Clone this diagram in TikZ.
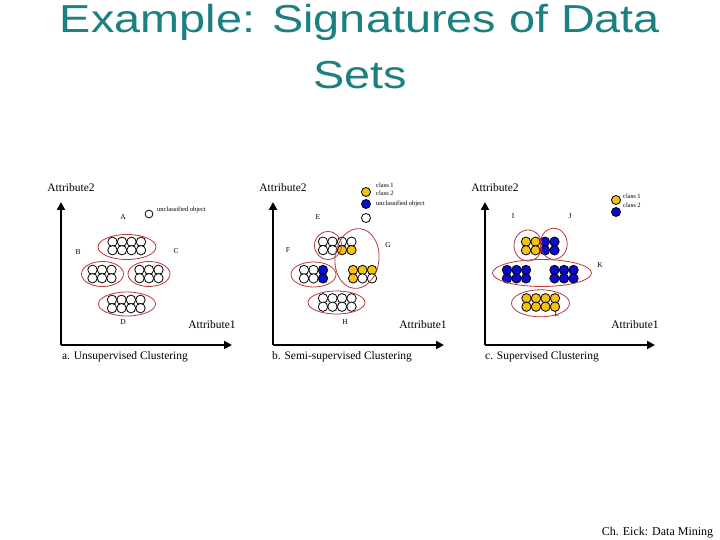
\documentclass[tikz,border=0pt]{standalone}
\usepackage{fontspec}
\setmainfont{Liberation Serif}
\newfontfamily\titlefont{Liberation Sans}
\usepackage{tikz}
\usetikzlibrary{positioning,shapes.geometric,arrows.meta}
\definecolor{titleteal}{HTML}{1A8080}
\definecolor{classone} {HTML}{F6C10F}
\definecolor{classtwo} {HTML}{0A0AD2}
\definecolor{clured}   {HTML}{B8383A}
\tikzset{
  % --- nodes
  ttl/.style   = {font=\titlefont\fontsize{39}{39}\selectfont, text=titleteal,
                  xscale=1.2, anchor=base, inner sep=0pt},
  axlbl/.style = {font=\fontsize{11.5}{12}\selectfont, inner sep=0pt},
  ltr/.style   = {font=\fontsize{7.5}{7.5}\selectfont, inner sep=0pt},
  lgd/.style   = {font=\fontsize{6.5}{6.5}\selectfont, inner sep=0pt, anchor=west},
  clu/.style   = {ellipse, draw=clured, line width=0.8pt, inner sep=0pt},
  % --- objects
  wobj/.style  = {draw=black, fill=white, line width=0.8pt},
  yobj/.style  = {wobj, fill=classone},
  bobj/.style  = {wobj, fill=classtwo},
  % --- edges
  axis/.style  = {line width=2.6pt, -{Triangle[width=8pt,length=8pt]}},
}
\begin{document}
\begin{tikzpicture}[x=1pt,y=-1pt]
  \useasboundingbox (0,0) rectangle (720,540);

  % title
  \node[ttl] (t1) at (360,33) {Example: Signatures of Data};
  \node[ttl] (t2) at (360,89) {Sets};

  % a. unsupervised
  \coordinate (ao) at (61,345);
  \coordinate (ay) at (61,202);
  \coordinate (ax) at (232,345);
  \draw[axis] (ao) -- (ay);
  \draw[axis] (ao) -- (ax);
  \foreach \x in {112.5,122,131.5,141} \foreach \y in {241.8,250.2} \draw[wobj] (\x,\y) circle[radius=4.7pt];
  \foreach \x in {92.5,102,111.5} \foreach \y in {269.8,278.2} \draw[wobj] (\x,\y) circle[radius=4.7pt];
  \foreach \x in {139.5,149,158.5} \foreach \y in {269.8,278.2} \draw[wobj] (\x,\y) circle[radius=4.7pt];
  \foreach \x in {112,121.5,131,140.5} \foreach \y in {299.8,308.2} \draw[wobj] (\x,\y) circle[radius=4.7pt];
  \node[clu, minimum width=58pt, minimum height=25pt] (cluA) at (127,247) {};
  \node[clu, minimum width=42pt, minimum height=25pt] (cluB) at (102.5,274) {};
  \node[clu, minimum width=42pt, minimum height=25pt] (cluC) at (149,274) {};
  \node[clu, minimum width=57pt, minimum height=24pt] (cluD) at (127,304) {};
  \draw[wobj] (149,214) circle[radius=3.9pt];
  \node[lgd] (ua) at (157,210) {unclassified object};
  \node[ltr] (la) at (123,217) {A};
  \node[ltr] (lb) at (78,252) {B};
  \node[ltr] (lc) at (176,251) {C};
  \node[ltr] (ld) at (123,322) {D};
  \node[axlbl] (a2a) at (71,188) {Attribute2};
  \node[axlbl] (a1a) at (212,325) {Attribute1};
  \node[axlbl] (capa) at (125,357) {a. Unsupervised Clustering};

  % b. semi-supervised
  \coordinate (bo) at (273,345);
  \coordinate (by) at (273,202);
  \coordinate (bx) at (444,345);
  \draw[axis] (bo) -- (by);
  \draw[axis] (bo) -- (bx);
  \foreach \x in {323,332.5,342,351.5} \draw[wobj] (\x,241.7) circle[radius=4.7pt];
  \foreach \x in {323,332.5} \draw[wobj] (\x,250.1) circle[radius=4.7pt];
  \foreach \x in {342,351.5} \draw[yobj] (\x,250.1) circle[radius=4.7pt];
  \foreach \x in {353,362.5,372} \draw[yobj] (\x,270) circle[radius=4.7pt];
  \draw[yobj] (353,278.4) circle[radius=4.7pt];
  \foreach \x in {362.5,372} \draw[wobj] (\x,278.4) circle[radius=4.7pt];
  \foreach \y in {270,278.4} {
    \draw[wobj] (304,\y) circle[radius=4.7pt];
    \draw[wobj] (313.5,\y) circle[radius=4.7pt];
    \draw[bobj] (323,\y) circle[radius=4.7pt];
  }
  \foreach \x in {323,332.5,342,351.5} \foreach \y in {298.3,306.7} \draw[wobj] (\x,\y) circle[radius=4.7pt];
  \node[clu, minimum width=27pt, minimum height=28pt] (cluE) at (328,245.5) {};
  \node[clu, minimum width=44pt, minimum height=60pt, rotate=-6] (cluG) at (357,258.5) {};
  \node[clu, minimum width=45pt, minimum height=25pt] (cluF) at (313.5,274.5) {};
  \node[clu, minimum width=57pt, minimum height=23pt] (cluH) at (336.5,302.5) {};
  \draw[yobj] (366,192) circle[radius=4.5pt];
  \draw[bobj] (366,204) circle[radius=4.5pt];
  \draw[wobj] (366,218) circle[radius=4.5pt];
  \node[lgd] (c1b) at (376,185) {class 1};
  \node[lgd] (c2b) at (376,193) {class 2};
  \node[lgd] (ub) at (376,204) {unclassified object};
  \node[ltr] (le) at (318,217) {E};
  \node[ltr] (lf) at (288,250) {F};
  \node[ltr] (lg) at (388,245) {G};
  \node[ltr] (lh) at (345,322) {H};
  \node[axlbl] (a2b) at (283,188) {Attribute2};
  \node[axlbl] (a1b) at (423,325) {Attribute1};
  \node[axlbl] (capb) at (342,357) {b. Semi-supervised Clustering};

  % c. supervised
  \coordinate (co) at (485,345);
  \coordinate (cy) at (485,202);
  \coordinate (cx) at (655,345);
  \draw[axis] (co) -- (cy);
  \draw[axis] (co) -- (cx);
  \foreach \x in {526,535.5} \foreach \y in {241.7,250.3} \draw[yobj] (\x,\y) circle[radius=4.7pt];
  \foreach \x in {545,554.5} \foreach \y in {241.7,250.3} \draw[bobj] (\x,\y) circle[radius=4.7pt];
  \foreach \x in {507,516.5,526,554.5,564,573.5} \foreach \y in {270,278.4} \draw[bobj] (\x,\y) circle[radius=4.7pt];
  \foreach \x in {526.5,536,545.5,555} \foreach \y in {298.3,306.7} \draw[yobj] (\x,\y) circle[radius=4.7pt];
  \node[clu, minimum width=28pt, minimum height=31pt] (cluI) at (528,245.5) {};
  \node[clu, minimum width=27pt, minimum height=31pt] (cluJ) at (553.7,243.8) {};
  \node[clu, minimum width=99pt, minimum height=27pt] (cluK) at (542,273) {};
  \node[clu, minimum width=58pt, minimum height=27pt] (cluL) at (540.5,303.3) {};
  \draw[yobj] (616,200) circle[radius=4.5pt];
  \draw[bobj] (616,212) circle[radius=4.5pt];
  \node[lgd] (c1c) at (623,196) {class 1};
  \node[lgd] (c2c) at (623,205) {class 2};
  \node[ltr] (li) at (513,216) {I};
  \node[ltr] (lj) at (570,216) {J};
  \node[ltr] (lk) at (600,265) {K};
  \node[ltr] (ll) at (557,314) {L};
  \node[axlbl] (a2c) at (495,188) {Attribute2};
  \node[axlbl] (a1c) at (635,325) {Attribute1};
  \node[axlbl] (capc) at (542,357) {c. Supervised Clustering};

  % footer
  \node[font=\fontsize{12}{12}\selectfont, inner sep=0pt] (foot) at (657.5,533) {Ch. Eick: Data Mining};
\end{tikzpicture}
\end{document}
